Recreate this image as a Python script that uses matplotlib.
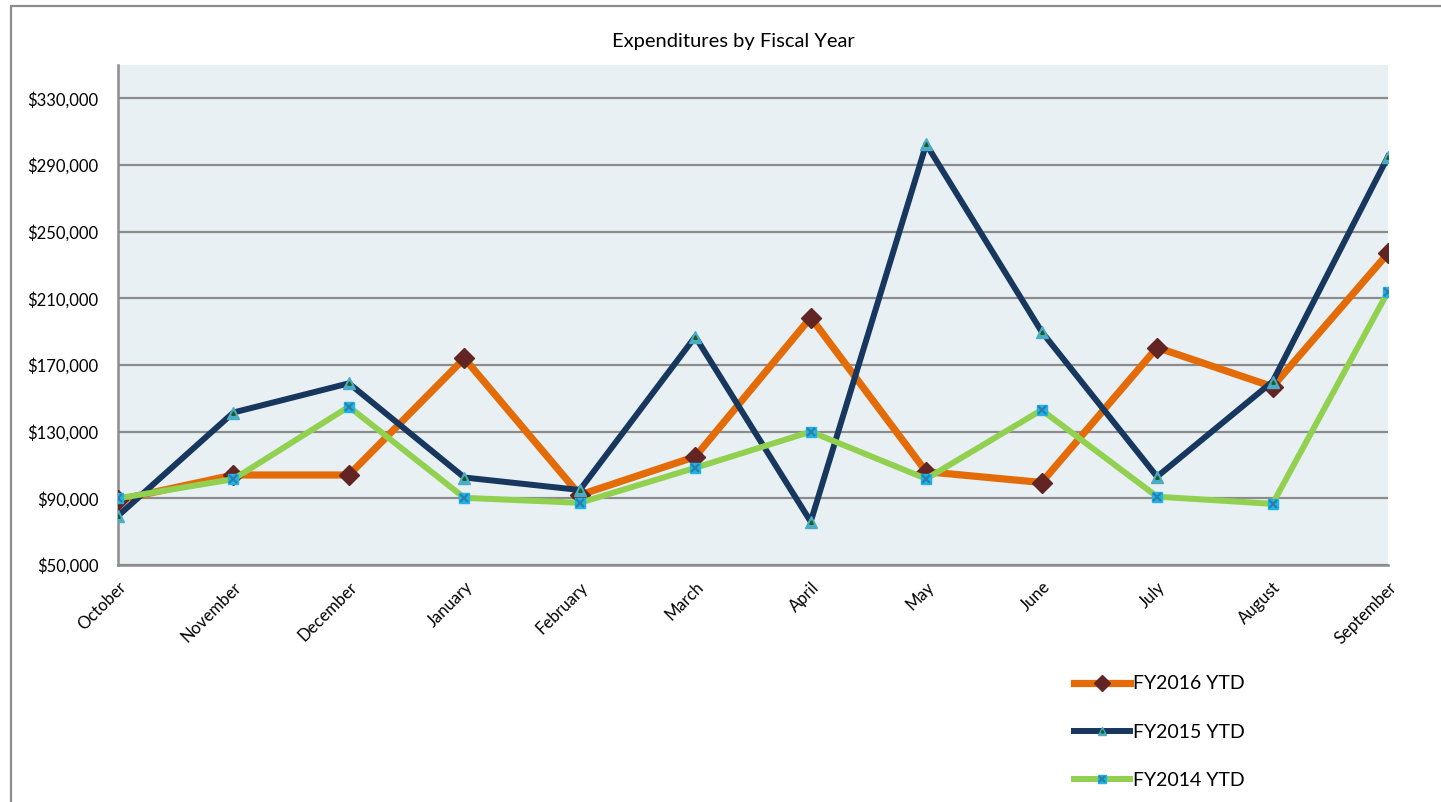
import matplotlib
matplotlib.use("Agg")
import matplotlib.pyplot as plt
from matplotlib.patches import Rectangle
from matplotlib.ticker import FuncFormatter

plt.rcParams["font.family"] = ["Lato", "DejaVu Sans"]

months = ["October", "November", "December", "January", "February", "March",
          "April", "May", "June", "July", "August", "September"]
fy2016 = [89000, 104000, 104000, 174000, 92000, 115000,
          198500, 106000, 99500, 180500, 157000, 237000]
fy2015 = [79500, 141500, 159000, 102500, 95000, 187000,
          76000, 302500, 190000, 103000, 160000, 295000]
fy2014 = [90000, 101500, 145000, 90300, 87300, 108300,
          130000, 101700, 143000, 91000, 86700, 214000]
yticks = list(range(50000, 330001, 40000))

W, H = 1441, 802
fig = plt.figure(figsize=(W / 100, H / 100), dpi=100)
fig.patch.set_facecolor("white")

# outer chart frame (right and bottom edges are cut off in the reference)
fig.add_artist(Rectangle((11 / W, -0.5), 2.0, 1.5 - 6 / H, transform=fig.transFigure,
                         fill=False, edgecolor="#8C8C8C", linewidth=1.6))

ax = fig.add_axes([118 / W, 1 - 565 / H, (1388 - 118) / W, (565 - 65) / H])
ax.set_facecolor("#E8F0F4")
x = range(len(months))

l16, = ax.plot(x, fy2016, color="#E36C09", linewidth=5.2, marker="D", markersize=10.5,
               markerfacecolor="#632523", markeredgecolor="#632523", zorder=3)
l15, = ax.plot(x, fy2015, color="#17375E", linewidth=4.3, marker="^", markersize=8,
               markerfacecolor="#4BACC6", markeredgecolor="#4BACC6", zorder=4)
c15, = ax.plot(x, fy2015, linestyle="none", marker="^", markersize=2.5,
               markerfacecolor="#1E5E20", markeredgecolor="#1E5E20", zorder=5)
l14, = ax.plot(x, fy2014, color="#92D050", linewidth=4.3, marker="s", markersize=7,
               markerfacecolor="#1FB4E8", markeredgecolor="#1FB4E8", zorder=5)
c14, = ax.plot(x, fy2014, linestyle="none", marker="x", markersize=5.5, markeredgewidth=1.6,
               color="#2E7FA8", zorder=6)

ax.set_xlim(0, len(months) - 1)
ax.set_ylim(50000, 350000)
ax.set_yticks(yticks)
ax.yaxis.set_major_formatter(FuncFormatter(lambda v, p: f"${v:,.0f}"))
ax.set_xticks(list(x))
ax.set_xticklabels(months, rotation=45, ha="right", rotation_mode="anchor")
ax.tick_params(axis="both", length=0, labelsize=12, colors="black")
ax.tick_params(axis="y", pad=14)
ax.tick_params(axis="x", pad=10)
ax.yaxis.grid(True, color="#8C8C8C", linewidth=1.6)
ax.set_axisbelow(True)
for side in ("top", "right"):
    ax.spines[side].set_visible(False)
for side in ("left", "bottom"):
    ax.spines[side].set_color("#8C8C8C")
    ax.spines[side].set_linewidth(1.8)

fig.text(733 / W, 1 - 42 / H, "Expenditures by Fiscal Year", ha="center", va="center", fontsize=14.5)

fig.legend([(l16,), (l15, c15), (l14, c14)], ["FY2016 YTD", "FY2015 YTD", "FY2014 YTD"],
           loc="center left", bbox_to_anchor=(1064 / W, 1 - 732 / H), frameon=False,
           fontsize=14, handlelength=2.9, handletextpad=0.15, labelspacing=1.6,
           borderpad=0, markerscale=0.8)

fig.savefig("out.png", dpi=100)
